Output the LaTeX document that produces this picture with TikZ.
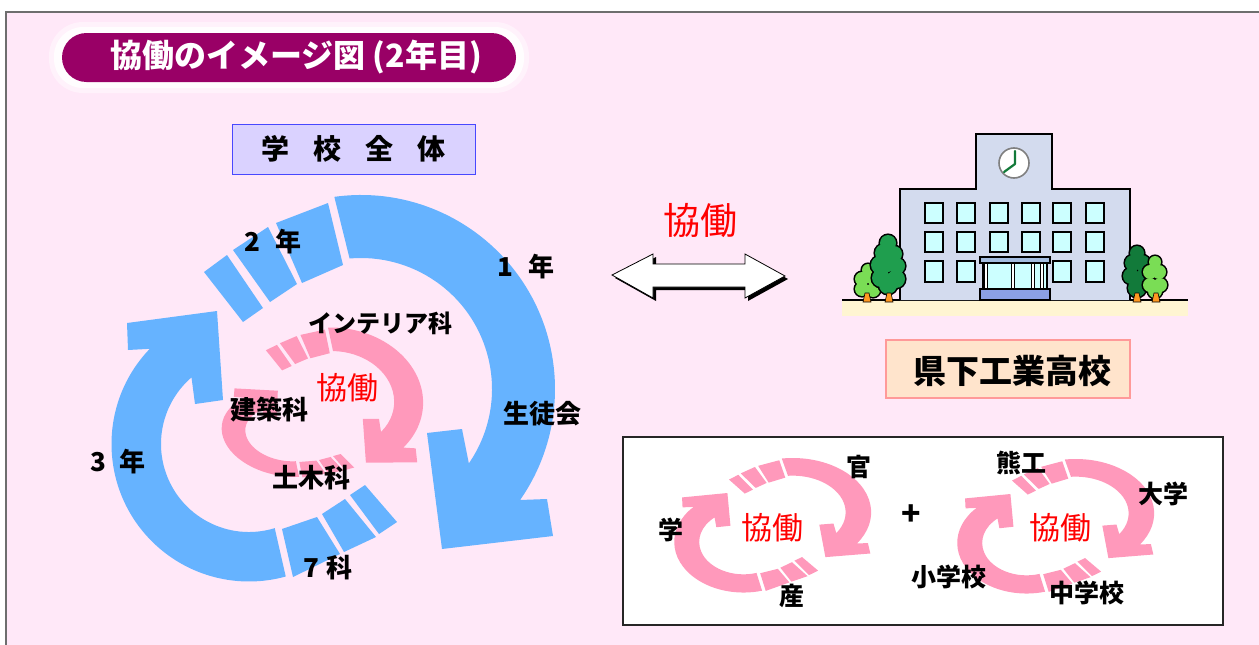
\documentclass[tikz,border=0pt]{standalone}
\usepackage{fontspec}
\setmainfont{Noto Sans CJK JP}
\newcommand\setfs[1]{\fontsize{#1}{#1}\selectfont}

\definecolor{bgpink}{HTML}{FFE8F8}
\definecolor{framegray}{HTML}{6E6E6E}
\definecolor{titleplum}{HTML}{990066}
\definecolor{cycleblue}{HTML}{66B3FF}
\definecolor{cyclepink}{HTML}{FF99BB}
\definecolor{boxlav}{HTML}{DAD2FF}
\definecolor{boxlavline}{HTML}{4848FF}
\definecolor{peach}{HTML}{FFE4CC}
\definecolor{peachline}{HTML}{FF9999}
\definecolor{bldg}{HTML}{D3DBEE}
\definecolor{glass}{HTML}{CCFFFF}
\definecolor{canopy}{HTML}{A3BCDF}
\definecolor{groundstrip}{HTML}{FFF5D2}
\definecolor{treedark}{HTML}{1F9E4E}
\definecolor{treedeep}{HTML}{127A3A}
\definecolor{treelight}{HTML}{7ADD55}
\definecolor{trunk}{HTML}{FF9922}
\definecolor{handgreen}{HTML}{137A3A}

% Upper arrow of a two-arrow cycle: striped tail, arc, corner head
\newcommand\cycleupper[1]{%
  \fill[#1] ([shift={(361,389)}]-97.9:194) arc[start angle=-97.9,end angle=34.9,radius=194]
    -- (547,499) -- (553,536) -- (442,549) -- (427,433) -- (462,429)
    -- ([shift={(361,389)}]34.6:131) arc[start angle=34.6,end angle=-95,radius=131] -- cycle;
  \fill[#1] (204,272) -- (227,255) -- (263,308) -- (243,322) -- cycle;
  \fill[#1] (233,250) -- (268,227) -- (297,284) -- (270,302) -- cycle;
  \fill[#1] (276,223) -- (328,203) -- (343,265) -- (302,283) -- cycle;
}
% Lower arrow of the cycle
\newcommand\cyclelower[1]{%
  \fill[#1] ([shift={(249,444)}]223.8:137.5) arc[start angle=223.8,end angle=74.5,radius=137.5]
    -- ([shift={(249,444)}]73:88) arc[start angle=73,end angle=229.2,radius=88]
    -- (195,404) -- (223,400) -- (217,311) -- (127,323) -- (128,350) -- cycle;
  \fill[#1] (282,529) -- (317,517) -- (340,554) -- (293,577) -- cycle;
  \fill[#1] (322,514) -- (345,499) -- (376,537) -- (344,552) -- cycle;
  \fill[#1] (350,495) -- (365,485) -- (397,522) -- (379,534) -- cycle;
}
% Bumpy tree crown from circles, outlined
\newcommand\treecrown[2]{%
  \foreach \px/\py/\r in {#2} \fill[black] (\px,\py) circle[radius=\r+1.6];
  \foreach \px/\py/\r in {#2} \fill[#1] (\px,\py) circle[radius=\r];
}
\newcommand\treetrunk[1]{%
  \filldraw[trunk, draw=black, line width=0.6pt] (#1-4,302) -- (#1-2,293) -- (#1+2,293) -- (#1+4,302) -- cycle;
}

\tikzset{
  lab/.style={inner sep=0pt, font=\setfs{26pt}\bfseries},
  smalllab/.style={inner sep=0pt, font=\setfs{25pt}\bfseries},
  redlab/.style={inner sep=0pt, text=red},
  window/.style={fill=glass, draw=black, line width=1.4pt},
}

\begin{document}
\begin{tikzpicture}[x=1pt,y=-1pt]
\useasboundingbox (0,0) rectangle (1259,645);
\fill[white] (0,0) rectangle (1259,645);
\fill[bgpink] (6,12) rectangle (1259,645);
\draw[framegray, line width=2pt] (6,645) -- (6,12) -- (1259,12);

% title pill with soft halo
\fill[white, opacity=0.45, rounded corners=34pt] (49,22) rectangle (529,93);
\fill[white!93!bgpink, rounded corners=29pt] (54,27) rectangle (524,88);
\fill[titleplum, rounded corners=24.5pt] (62,33) rectangle (516,82);
\node[inner sep=0pt, text=white, font=\setfs{32pt}\bfseries] (title) at (296,57.5) {協働のイメージ図 (2年目)};

% whole-school label
\node[draw=boxlavline, fill=boxlav, line width=0.9pt, minimum width=243pt, minimum height=50pt, inner sep=0pt] (schoolbox) at (353.5,149) {};
\node[inner sep=0pt, font=\setfs{28pt}\bfseries] (school) at (schoolbox.center) {学\hspace{0.85em}校\hspace{0.85em}全\hspace{0.85em}体};

% blue cycle (grades)
\cycleupper{cycleblue}
\cyclelower{cycleblue}

% pink cycle (departments)
\begin{scope}[shift={(334,400)}, rotate=-5, xscale=0.46, yscale=0.373, shift={(-361,-389)}]
  \cycleupper{cyclepink}
\end{scope}
\begin{scope}[shift={(290,435)}, rotate=-8, xscale=0.48, yscale=0.31, shift={(-255,-447)}]
  \cyclelower{cyclepink}
\end{scope}

\node[lab] (yr2) at (273,242) {2\hspace{0.6em}年};
\node[lab] (yr1) at (526,267) {1\hspace{0.6em}年};
\node[lab] (yr3) at (118,462) {3\hspace{0.5em}年};
\node[lab] (dept7) at (328,568) {7\hspace{0.25em}科};
\node[lab] (council) at (542,414) {生徒会};
\node[inner sep=0pt, font=\setfs{24pt}\bfseries] (interior) at (380,323) {インテリア科};
\node[lab] (archi) at (269,410) {建築科};
\node[lab] (civil) at (311,478) {土木科};
\node[redlab, font=\setfs{31pt}] (collabA) at (347,388) {協働};

% two-way block arrow
\node[redlab, font=\setfs{37pt}] (collabB) at (700,221) {協働};
\begin{scope}[shift={(3,3)}]
  \fill[black] (612,275) -- (653,254) -- (653,264) -- (745,264) -- (745,254) -- (785,276)
    -- (745,298) -- (745,287) -- (653,287) -- (653,298) -- cycle;
\end{scope}
\filldraw[fill=white, draw=black, line width=0.8pt] (612,275) -- (653,254) -- (653,264) -- (745,264) -- (745,254) -- (785,276)
    -- (745,298) -- (745,287) -- (653,287) -- (653,298) -- cycle;

% school building
\fill[groundstrip] (842,300) rectangle (1188,316);
\draw[black, line width=2.4pt] (842,300) -- (1188,300);
\draw[fill=bldg, line width=2.4pt, line join=miter] (900,300) -- (900,189) -- (976,189) -- (976,134) -- (1052,134) -- (1052,189) -- (1130,189) -- (1130,300);
\draw[gray, fill=white, line width=1.6pt] (1014,163) circle[radius=15];
\draw[handgreen, line width=2.2pt, line cap=round, line join=round] (1015,151) -- (1015,164) -- (1004,172);
\foreach \wx in {925,957,990,1022,1053,1086}
  \foreach \wy in {203,232} \draw[window] (\wx,\wy) rectangle ++(18,20);
\foreach \wx in {925,957,1053,1086} \draw[window] (\wx,261) rectangle ++(18,21);
\draw[fill=glass, line width=1.2pt] (983,263) rectangle (1047,289);
\foreach \dx in {986,1013,1033,1042} \draw[fill=white, line width=0.9pt] (\dx-1.6,263) rectangle (\dx+1.6,289);
\draw[fill=canopy, line width=1.4pt] (980,257) rectangle (1050,263);
\draw[fill=canopy!85!blue, line width=1.4pt] (980,289) rectangle (1050,300);

% trees
\treecrown{treelight}{868/270/6, 862/279/7, 874/279/7, 862/289/7, 873/290/7}
\treetrunk{867}
\treecrown{treedark}{888/243/8, 884/253/9, 894/254/8, 880/265/9, 897/266/8, 881/278/9, 896/279/9, 888/285/9, 888/262/10}
\treetrunk{889}
\treecrown{treedeep}{1137/253/7, 1133/263/8, 1142/263/8, 1131/276/8, 1144/276/8, 1137/288/9}
\treetrunk{1137}
\treecrown{treelight}{1155/262/6, 1150/272/7, 1159/272/7, 1150/285/7, 1160/285/7, 1155/291/7}
\treetrunk{1156}

% partner school label
\node[draw=peachline, fill=peach, line width=1.2pt, minimum width=244pt, minimum height=58pt, inner sep=0pt] (partnerbox) at (1008,369) {};
\node[inner sep=0pt, font=\setfs{33pt}\bfseries] (partner) at (1012,371) {県下工業高校};

% industry-academia-government box
\node[draw=black!85, fill=white, line width=1.3pt, minimum width=600pt, minimum height=188pt, inner sep=0pt] (panel) at (923,531) {};
\begin{scope}[shift={(729,458)}, xscale=0.405, yscale=0.28, shift={(-204,-195)}]
  \cycleupper{cyclepink}
\end{scope}
\begin{scope}[shift={(675,493)}, xscale=0.504, yscale=0.368, shift={(-113,-311)}]
  \cyclelower{cyclepink}
\end{scope}
\begin{scope}[shift={(1012,459)}, xscale=0.405, yscale=0.28, shift={(-204,-195)}]
  \cycleupper{cyclepink}
\end{scope}
\begin{scope}[shift={(958,494)}, xscale=0.504, yscale=0.368, shift={(-113,-311)}]
  \cyclelower{cyclepink}
\end{scope}

\node[smalllab] (gov) at (859,467) {官};
\node[smalllab] (acad) at (671,530) {学};
\node[smalllab] (ind) at (792,596) {産};
\node[redlab, font=\setfs{31pt}] (collabC) at (772,528) {協働};
\node[inner sep=0pt, font=\setfs{32pt}\bfseries] (plus) at (911,515) {+};
\node[smalllab] (kumako) at (1021,463) {熊工};
\node[smalllab] (univ) at (1163,494) {大学};
\node[redlab, font=\setfs{31pt}] (collabD) at (1060,528) {協働};
\node[smalllab] (elem) at (949,577) {小学校};
\node[smalllab] (junior) at (1087,593) {中学校};
\end{tikzpicture}
\end{document}
